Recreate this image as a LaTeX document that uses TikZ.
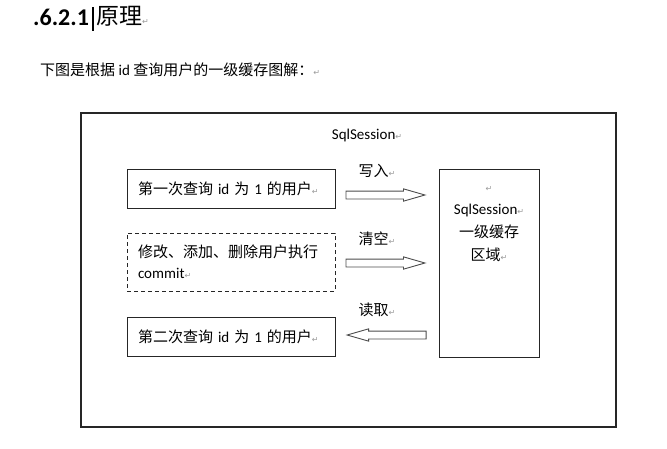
\documentclass[tikz,border=0pt]{standalone}
\usepackage{fontspec}
\setmainfont{Noto Sans CJK SC}
\newfontfamily\latfont{Carlito}
\newfontfamily\markfont{DejaVu Sans}
\usetikzlibrary{shapes.arrows,positioning}

\newcommand{\pmark}{{\markfont\fontsize{8}{8}\selectfont\color{black!40}↵}}
\newcommand{\lat}[1]{{\latfont #1}}

\tikzset{
	querybox/.style={draw=black!85, line width=1pt, minimum width=208pt, minimum height=39pt,
		text width=186pt, inner sep=0pt, align=left, font=\fontsize{15}{21}\selectfont},
	hollowarrow/.style={single arrow, draw=black!70, line width=0.9pt, minimum height=79pt,
		text height=3.5pt, text depth=3.5pt, inner sep=0pt, minimum width=0pt,
		single arrow head extend=2.2pt, single arrow tip angle=32},
	actlabel/.style={font=\fontsize{15}{15}\selectfont, anchor=west, inner sep=0pt},
}

\begin{document}
\begin{tikzpicture}[x=1pt,y=-1pt]

	\useasboundingbox (0,0) rectangle (667,448);

	% heading
	\node[anchor=base west, inner sep=0pt, font=\latfont\bfseries\fontsize{24}{24}\selectfont] (secnum) at (33,25) {.6.2.1};
	\draw[line width=1.3pt] (93,7) -- (93,31);
	\node[anchor=base west, inner sep=0pt, font=\fontsize{23}{23}\selectfont] (sectitle) at (96,24) {原理\pmark};
	\node[anchor=west, inner sep=0pt, font=\fontsize{15}{15}\selectfont] (intro) at (40,70) {下图是根据\lat{ id }查询用户的一级缓存图解：\pmark};

	% session frame
	\node[draw=black!85, line width=1.2pt, minimum width=535pt, minimum height=314pt] (session) at (348.5,270) {};
	\node[font=\fontsize{15}{15}\selectfont, inner sep=0pt] (sessiontitle) at (367,135) {\lat{SqlSession}\pmark};

	% left boxes
	\node[querybox] (first) at (231,188.5) {第一次查询\lat{ id }为\lat{ 1 }的用户\pmark};
	\node[querybox, dash pattern=on 4pt off 3pt, minimum height=58pt] (update) at (231,262) {修改、添加、删除用户执行\\\lat{commit}\pmark};
	\node[querybox] (second) at (231,337) {第二次查询\lat{ id }为\lat{ 1 }的用户\pmark};

	% cache area
	\node[draw=black!85, line width=1pt, minimum width=100pt, minimum height=188pt] (cache) at (489,263) {};
	\node[below=18pt of cache.north, align=center, inner sep=0pt, font=\fontsize{15}{23}\selectfont] (cachetext)
		{\pmark\\\lat{SqlSession}\pmark\\一级缓存\\区域\pmark};

	% arrows
	\node[hollowarrow, anchor=tail] (write) at ([xshift=10pt,yshift=-6.5pt]first.east) {};
	\node[hollowarrow, anchor=tail] (clear) at ([xshift=10pt,yshift=-1pt]update.east) {};
	\node[hollowarrow, shape border rotate=180, anchor=tip] (read) at ([xshift=10pt,yshift=2pt]second.east) {};

	\node[actlabel] (writelabel) at ([xshift=13pt,yshift=24pt]write.tail) {写入\pmark};
	\node[actlabel] (clearlabel) at ([xshift=13pt,yshift=24pt]clear.tail) {清空\pmark};
	\node[actlabel] (readlabel) at ([xshift=13pt,yshift=25pt]read.tip) {读取\pmark};

\end{tikzpicture}
\end{document}
